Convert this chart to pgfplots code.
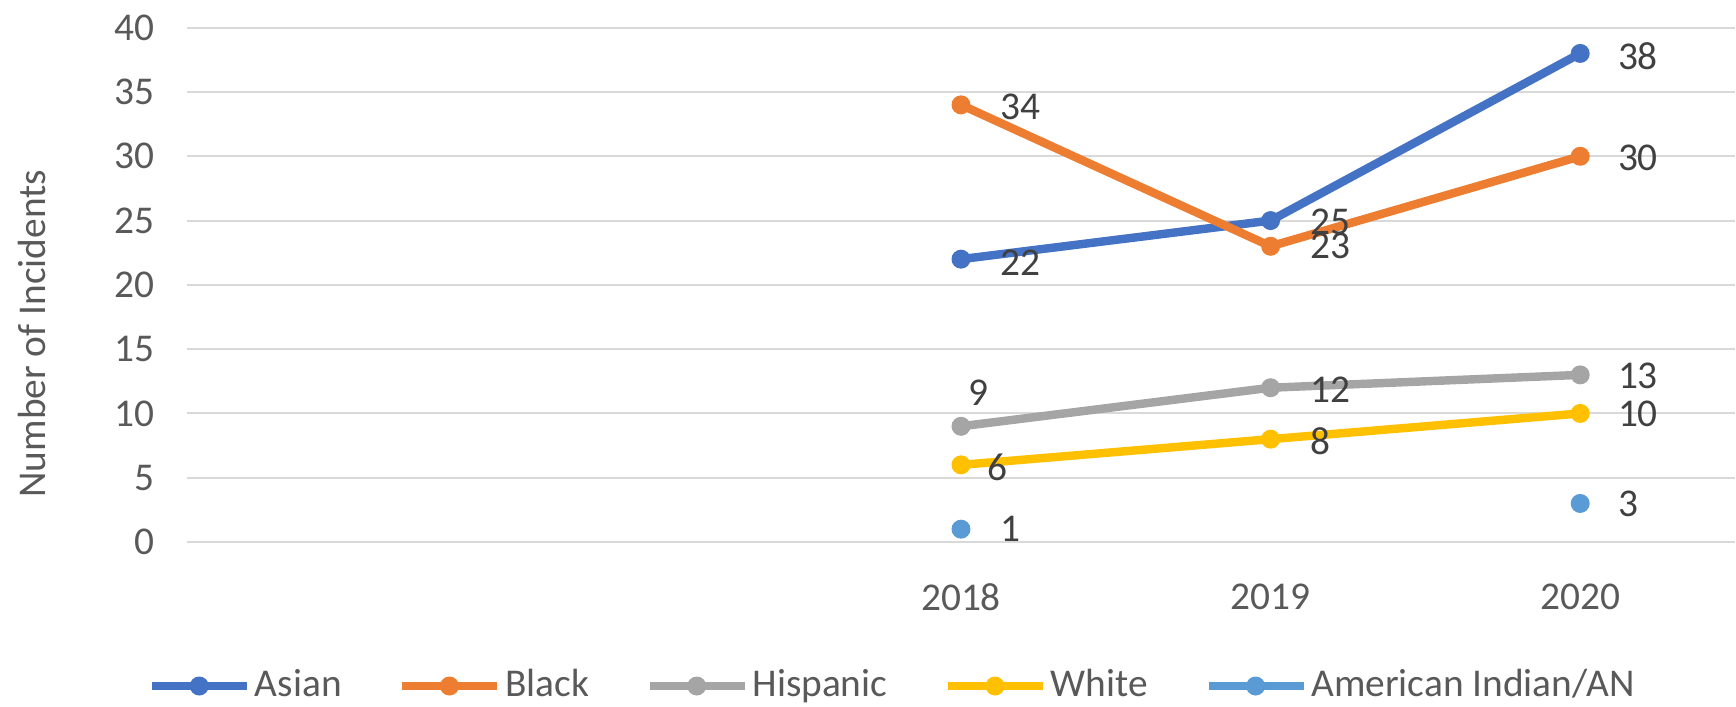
\documentclass[border=0pt]{standalone}
\usepackage{fontspec}
\setmainfont{Carlito}
\usepackage{pgfplots}
\usepackage{pgfplotstable}
\pgfplotsset{compat=1.18}
\definecolor{cAsian}{HTML}{4472C4}
\definecolor{cBlack}{HTML}{ED7D31}
\definecolor{cHisp}{HTML}{A5A5A5}
\definecolor{cWhite}{HTML}{FFC000}
\definecolor{cAmInd}{HTML}{5B9BD5}
\definecolor{gridgray}{HTML}{D9D9D9}
\definecolor{labelgray}{HTML}{595959}
\definecolor{datagray}{HTML}{404040}

\pgfplotstableread{
x y dx dy
2 22 35 -2.8
3 25 35 -1
4 38 33.5 -2.8
}\asian
\pgfplotstableread{
x y dx dy
2 34 35 -1.7
3 23 35 0
4 30 33.5 -1.7
}\black
\pgfplotstableread{
x y dx dy
2 9 5.7 30
3 12 35 -2
4 13 33.5 -0.7
}\hisp
\pgfplotstableread{
x y dx dy
2 6 23.7 -2.4
3 8 35 -1.7
4 10 33.5 0
}\white
\pgfplotstableread{
x y dx dy
2 1 35 0
3 nan 0 0
4 3 33.5 -0.7
}\amind

\begin{document}
\fontsize{11.2}{13.4}\selectfont
\begin{tikzpicture}
\path[use as bounding box] (-1.87cm,-1.64cm) rectangle (15.49cm,5.42cm);
\begin{axis}[
  at={(0,0)}, anchor=south west,
  scale only axis, width=15.48cm, height=5.143cm,
  xmin=-0.5, xmax=4.5, ymin=0, ymax=40,
  xtick={2,3,4}, xticklabels={2018,2019,2020},
  ytick={0,5,...,40},
  ymajorgrids,
  major grid style={draw=gridgray, line width=0.6pt},
  axis line style={draw=none},
  major tick length=0pt,
  tick label style={font=\fontsize{11.2}{13.4}\selectfont, text=labelgray},
  /pgf/number format/assume math mode=true,
  yticklabel style={xshift=-0.19cm},
  xticklabel style={yshift=-0.28cm},
  ylabel={Number of Incidents},
  ylabel style={at={(axis description cs:-0.1001,0.405)}, anchor=center, rotate=0, font=\fontsize{11.2}{13.4}\selectfont, text=labelgray},
  unbounded coords=jump,
  every axis plot/.append style={line width=2.4pt, mark=*, mark size=2.5pt, mark options={solid, line width=0.4pt}},
  nodes near coords,
  visualization depends on={\thisrow{dx} \as \dx},
  visualization depends on={\thisrow{dy} \as \dy},
  nodes near coords style={anchor=west, inner sep=0pt, xshift={\dx*0.315pt}, yshift={\dy*0.315pt}, text=datagray, font=\fontsize{11.2}{13.4}\selectfont},
  legend columns=-1,
  legend image code/.code={\draw[mark repeat=2, mark phase=2, #1] plot coordinates {(0cm,0cm) (0.47cm,0cm) (0.95cm,0cm)};},
  legend style={at={(axis description cs:0.4561,-0.28)}, anchor=center, draw=none, fill=none,
    font=\fontsize{11.2}{13.4}\selectfont, text=labelgray,
    /tikz/every even column/.append style={column sep=0.53cm},
    nodes={inner xsep=1pt, inner ysep=2pt}},
]
\addplot[color=cAsian] table[x=x, y=y] {\asian};
\addlegendentry{Asian}
\addplot[color=cBlack] table[x=x, y=y] {\black};
\addlegendentry{Black}
\addplot[color=cHisp] table[x=x, y=y] {\hisp};
\addlegendentry{Hispanic}
\addplot[color=cWhite] table[x=x, y=y] {\white};
\addlegendentry{White}
\addplot[color=cAmInd] table[x=x, y=y] {\amind};
\addlegendentry{American Indian/AN}
\end{axis}
\end{tikzpicture}
\end{document}
